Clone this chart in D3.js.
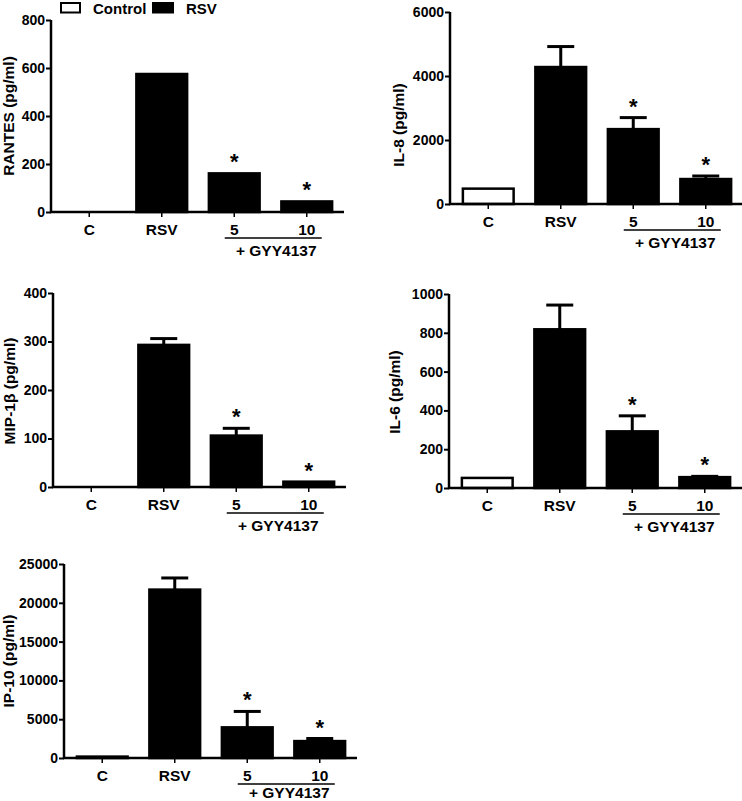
<!DOCTYPE html>
<html>
<head>
<meta charset="utf-8">
<script src="https://cdn.jsdelivr.net/npm/d3@7"></script>
<style>
  html, body { margin: 0; padding: 0; background: #fff; }
  svg { display: block; }
  text { font-family: Arial, "Liberation Sans", Helvetica, sans-serif; font-weight: bold; fill: #000; }
</style>
</head>
<body>
<svg id="chart" width="742" height="801"></svg>
<script>
// ---- Data ----
const categories = ["C", "RSV", "5", "10"];
const groupLabel = "+ GYY4137";
const legendItems = ["Control", "RSV"];

const ranteValues = [0, 575, 161, 44];
const ranteErrors = [0, 0, 0, 0];
const ranteStars = [false, false, true, true];
const ranteTicks = [0, 200, 400, 600, 800];

const il8Values = [480, 4280, 2340, 780];
const il8Errors = [0, 640, 360, 95];
const il8Stars = [false, false, true, true];
const il8Ticks = [0, 2000, 4000, 6000];

const mipValues = [0, 293, 106, 11];
const mipErrors = [0, 13, 15, 0];
const mipStars = [false, false, true, true];
const mipTicks = [0, 100, 200, 300, 400];

const il6Values = [52, 818, 292, 56];
const il6Errors = [0, 125, 80, 4];
const il6Stars = [false, false, true, true];
const il6Ticks = [0, 200, 400, 600, 800, 1000];

const ip10Values = [180, 21700, 3950, 2180];
const ip10Errors = [0, 1500, 2050, 330];
const ip10Stars = [false, false, true, true];
const ip10Ticks = [0, 5000, 10000, 15000, 20000, 25000];

// Panel layouts (positions only)
const panels = [
  { title: "RANTES (pg/ml)", values: ranteValues, errors: ranteErrors, stars: ranteStars, ticks: ranteTicks,
    axisX: 51, yTop: 20, y0: 212, titleX: 9, titleY: 116 },
  { title: "IL-8 (pg/ml)", values: il8Values, errors: il8Errors, stars: il8Stars, ticks: il8Ticks,
    axisX: 450, yTop: 12, y0: 204, titleX: 399, titleY: 125 },
  { title: "MIP-1\u03B2 (pg/ml)", values: mipValues, errors: mipErrors, stars: mipStars, ticks: mipTicks,
    axisX: 53, yTop: 293, y0: 487, titleX: 10, titleY: 391 },
  { title: "IL-6 (pg/ml)", values: il6Values, errors: il6Errors, stars: il6Stars, ticks: il6Ticks,
    axisX: 449, yTop: 294, y0: 488, titleX: 395, titleY: 392 },
  { title: "IP-10 (pg/ml)", values: ip10Values, errors: ip10Errors, stars: ip10Stars, ticks: ip10Ticks,
    axisX: 64, yTop: 564, y0: 758, titleX: 9, titleY: 661 }
];

const FONT = "Arial, 'Liberation Sans', sans-serif";
const svg = d3.select("#chart");

panels.forEach(p => {
  const g = svg.append("g");
  const yMax = p.ticks[p.ticks.length - 1];
  const y = d3.scaleLinear().domain([0, yMax]).range([p.y0, p.yTop]);
  const x = d3.scaleBand().domain(categories)
    .range([p.axisX + 2, p.axisX + 292])
    .paddingInner(0.3).paddingOuter(0.15);

  // bars
  g.selectAll("rect.bar").data(categories).enter().append("rect")
    .attr("class", "bar")
    .attr("x", d => x(d))
    .attr("width", x.bandwidth())
    .attr("y", (d, i) => y(p.values[i]))
    .attr("height", (d, i) => Math.max(0, p.y0 - y(p.values[i])))
    .attr("fill", (d, i) => i === 0 ? "#fff" : "#000")
    .attr("stroke", "#000")
    .attr("stroke-width", (d, i) => p.values[i] > 0 ? 2.5 : 0);

  // error bars (upper only) and significance stars
  categories.forEach((c, i) => {
    const e = p.errors[i];
    const cx = x(c) + x.bandwidth() / 2;
    if (e > 0) {
      const yv = y(p.values[i]);
      const ye = y(p.values[i] + e);
      g.append("line").attr("x1", cx).attr("x2", cx).attr("y1", yv).attr("y2", ye)
        .attr("stroke", "#000").attr("stroke-width", 3);
      g.append("line").attr("x1", cx - 13.5).attr("x2", cx + 13.5).attr("y1", ye).attr("y2", ye)
        .attr("stroke", "#000").attr("stroke-width", 3);
    }
    if (p.stars[i]) {
      const top = y(p.values[i] + e);
      g.append("text").attr("x", cx).attr("y", top - 4)
        .attr("text-anchor", "middle").attr("font-size", 22).text("*");
    }
  });

  // y axis
  const yAxis = d3.axisLeft(y).tickValues(p.ticks).tickSize(5).tickPadding(1).tickSizeOuter(0)
    .tickFormat(d3.format("d"));
  const ya = g.append("g").attr("transform", `translate(${p.axisX},0)`).call(yAxis);
  ya.select(".domain").attr("stroke-width", 2.5).attr("d", `M0,${p.y0 + 1}V${p.yTop}`);
  ya.selectAll(".tick line").attr("stroke-width", 2);
  ya.selectAll(".tick text").attr("font-size", 14).attr("font-weight", "bold")
    .attr("font-family", FONT).attr("fill", "#000");

  // x axis
  const xAxis = d3.axisBottom(x).tickSize(5).tickPadding(7).tickSizeOuter(0);
  const xa = g.append("g").attr("transform", `translate(0,${p.y0})`).call(xAxis);
  xa.select(".domain").attr("stroke-width", 2.5).attr("d", `M${p.axisX - 1},0H${Math.min(742, p.axisX + 293)}`);
  xa.selectAll(".tick line").attr("stroke-width", 1.5);
  xa.selectAll(".tick text").attr("font-size", 15.5).attr("font-weight", "bold")
    .attr("font-family", FONT).attr("fill", "#000");

  // group underline and label
  const c5 = x("5") + x.bandwidth() / 2;
  const c10 = x("10") + x.bandwidth() / 2;
  const uy = p.y0 + 26;
  g.append("line").attr("x1", c5 - 9.5).attr("x2", c10 + 15).attr("y1", uy).attr("y2", uy)
    .attr("stroke", "#000").attr("stroke-width", 1.5);
  g.append("text").attr("x", (c5 - 9.5 + c10 + 15) / 2 + 3).attr("y", Math.min(p.y0 + 43.5, 798))
    .attr("text-anchor", "middle").attr("font-size", 15.5).text(groupLabel);

  // y title
  g.append("text").attr("transform", `translate(${p.titleX + 5},${p.titleY}) rotate(-90)`)
    .attr("text-anchor", "middle").attr("font-size", 15.5).text(p.title);
});

// legend
const lg = svg.append("g");
lg.append("rect").attr("x", 61).attr("y", 3).attr("width", 19).attr("height", 9.5)
  .attr("fill", "#fff").attr("stroke", "#000").attr("stroke-width", 2);
lg.append("text").attr("x", 93).attr("y", 13.5).attr("font-size", 15).text(legendItems[0]);
lg.append("rect").attr("x", 152).attr("y", 2).attr("width", 22).attr("height", 11.5).attr("fill", "#000");
lg.append("text").attr("x", 186).attr("y", 13.5).attr("font-size", 15).text(legendItems[1]);
</script>
</body>
</html>
